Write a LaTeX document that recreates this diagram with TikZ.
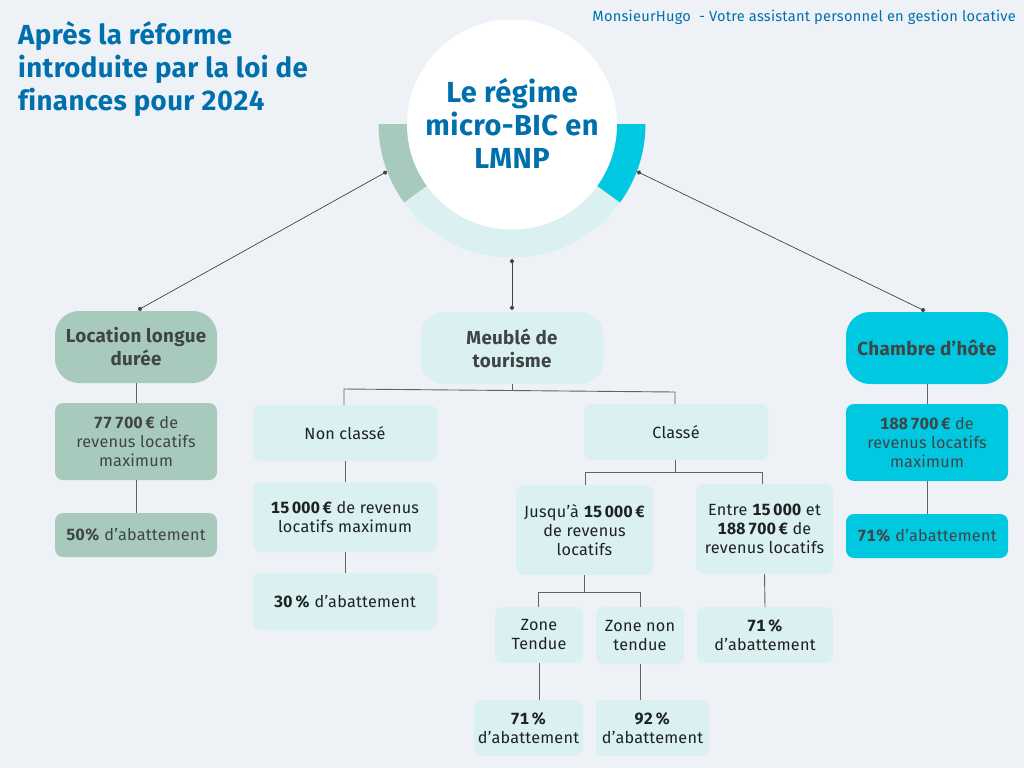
\documentclass[tikz,border=0pt]{standalone}
\usepackage{fontspec}
\setmainfont[LetterSpace=1.5,Numbers=Monospaced,Ligatures=NoCommon]{Fira Sans}
\usetikzlibrary{arrows.meta}
\definecolor{pagebg}{HTML}{EEF2F7}
\definecolor{sage}{HTML}{A8CABC}
\definecolor{pale}{HTML}{DBF0F0}
\definecolor{cyan}{HTML}{00C8E0}
\definecolor{bluetxt}{HTML}{0070AD}
\definecolor{darktxt}{HTML}{3F4547}
\definecolor{blacktxt}{HTML}{1D2222}
\definecolor{linkgrey}{HTML}{5A6666}
\newcommand{\thsp}{\hspace{0.17em}}
\tikzset
{
    box/.style = {rectangle, align=center, inner sep=0pt, outer sep=0pt, rounded corners=8pt, font=\fontsize{16.2}{19}\selectfont},
    palebox/.style = {box, fill=pale, text=blacktxt},
    sagebox/.style = {box, fill=sage, text=darktxt},
    cyanbox/.style = {box, fill=cyan, text=darktxt},
    headbox/.style = {rounded corners=24pt, text=darktxt, font=\fontsize{18.8}{23}\selectfont\bfseries},
    hub/.style = {circle, fill=white, inner sep=0pt, outer sep=0pt, minimum size=210pt, align=center, text=bluetxt, font=\fontsize{29}{33}\selectfont\bfseries},
    link/.style = {draw=linkgrey, line width=0.9pt},
    spoke/.style = {draw=darktxt, line width=0.7pt, {Circle[length=4.5pt]}-{Circle[length=4.5pt]}}
}
\begin{document}
\begin{tikzpicture}[x=1pt,y=1pt]
	\fill[pagebg] (0,0) rectangle (1024,-768);
	\useasboundingbox (0,0) rectangle (1024,-768);
	% ring round the hub
	\fill[pale] (378.5,-124) arc[start angle=180, end angle=360, radius=133.5] -- cycle;
	\fill[sage] (512,-124) -- (378.5,-124) arc[start angle=180, end angle=216, radius=133.5] -- cycle;
	\fill[cyan] (512,-124) -- (645.5,-124) arc[start angle=0, end angle=-36, radius=133.5] -- cycle;
	\node[hub] (hub) at (512,-124.5) {};
	\node[align=center, text=bluetxt, inner sep=0pt, font=\fontsize{29}{33}\selectfont\bfseries] (hubtext) at (512,-123) {Le régime\\micro-BIC en\\LMNP};
	% texts
	\node[anchor=north west, inner sep=0pt, align=left, text=bluetxt, font=\fontsize{27.6}{33}\selectfont\bfseries] (title) at (18,-21.5) {Après la réforme\\introduite par la loi de\\finances pour 2024};
	\node[anchor=east, inner sep=0pt, text=bluetxt, font=\fontsize{14.65}{16}\selectfont] (brand) at (1016,-17) {MonsieurHugo\ \ - Votre assistant personnel en gestion locative};
	% left column
	\node[sagebox, headbox, minimum width=162pt, minimum height=72pt] (longue) at (136,-347) {Location longue\\durée};
	\node[sagebox, minimum width=162pt, minimum height=77pt] (longuerev) at (136,-441.5) {\textbf{77\thsp700\thsp€} de\\revenus locatifs\\maximum};
	\node[sagebox, minimum width=162pt, minimum height=44pt] (longueab) at (136,-535) {\textbf{50\%} d’abattement};
	% right column
	\node[cyanbox, headbox, minimum width=162pt, minimum height=72pt] (chambre) at (927,-348) {Chambre d’hôte};
	\node[cyanbox, minimum width=162pt, minimum height=77pt] (chambrerev) at (927,-442.5) {\textbf{188\thsp700\thsp€} de\\revenus locatifs\\maximum};
	\node[cyanbox, minimum width=162pt, minimum height=44pt] (chambreab) at (927,-536) {\textbf{71\%} d’abattement};
	% middle column
	\node[palebox, headbox, minimum width=183pt, minimum height=72pt] (meuble) at (512,-348) {Meublé de\\tourisme};
	\node[palebox, minimum width=184pt, minimum height=56pt] (nonclasse) at (345,-433) {Non classé};
	\node[palebox, minimum width=184pt, minimum height=70pt] (nonrev) at (345,-517) {\textbf{15\thsp000\thsp€} de revenus\\locatifs maximum};
	\node[palebox, minimum width=184pt, minimum height=57pt] (nonab) at (345,-601.5) {\textbf{30\thsp\%} d’abattement};
	\node[palebox, minimum width=184pt, minimum height=56pt] (classe) at (676,-432) {Classé};
	\node[palebox, minimum width=137pt, minimum height=90pt] (jusqua) at (584.5,-530) {Jusqu’à \textbf{15\thsp000\thsp€}\\de revenus\\locatifs};
	\node[palebox, minimum width=137pt, minimum height=90pt] (entre) at (764.5,-529) {Entre \textbf{15\thsp000} et\\\textbf{188\thsp700\thsp€} de\\revenus locatifs};
	\node[palebox, minimum width=88pt, minimum height=56pt] (tendue) at (539,-635) {Zone\\Tendue};
	\node[palebox, minimum width=88pt, minimum height=57pt] (nontendue) at (640,-635.5) {Zone non\\tendue};
	\node[palebox, minimum width=136pt, minimum height=56pt] (entreab) at (765,-635) {\textbf{71\thsp\%}\\d’abattement};
	\node[palebox, minimum width=109pt, minimum height=56pt] (tendueab) at (528.5,-728) {\textbf{71\thsp\%}\\d’abattement};
	\node[palebox, minimum width=113pt, minimum height=56pt] (nontendueab) at (652.5,-728) {\textbf{92\thsp\%}\\d’abattement};
	% free ends of the spokes
	\coordinate (spokeL) at (387,-171.5);
	\coordinate (spokeM) at (512,-259);
	\coordinate (spokeR) at (637,-171.5);
	\coordinate (longuetop) at (138,-310);
	\coordinate (meubletop) at (512,-310);
	\coordinate (chambretop) at (925,-311);
	\draw[spoke] (spokeL) -- (longuetop);
	\draw[spoke] (spokeM) -- (meubletop);
	\draw[spoke] (spokeR) -- (chambretop);
	% bus points
	\coordinate (busA) at (344,-389);
	\coordinate (busB) at (675,-392);
	\coordinate (busM) at (512,-391);
	\coordinate (busC) at (585,-472);
	\coordinate (busD) at (762,-472);
	\coordinate (busE) at (538,-592);
	\coordinate (busF) at (640,-592);
	\coordinate (busK) at (675.5,-472);
	\coordinate (busJ) at (584,-592);
	\draw[link] (longue.south) -- (longuerev.north);
	\draw[link] (longuerev.south) -- (longueab.north);
	\draw[link] (chambre.south) -- (chambrerev.north);
	\draw[link] (chambrerev.south) -- (chambreab.north);
	\draw[link] (meuble.south) -- (busM);
	\draw[link] (nonclasse.north -| busA) -- (busA) -- (busB) -- (classe.north -| busB);
	\draw[link] (nonclasse.south) -- (nonrev.north);
	\draw[link] (nonrev.south) -- (nonab.north);
	\draw[link] (classe.south -| busK) -- (busK);
	\draw[link] (jusqua.north -| busC) -- (busC) -- (busD) -- (entre.north -| busD);
	\draw[link] (jusqua.south -| busJ) -- (busJ);
	\draw[link] (tendue.north -| busE) -- (busE) -- (busF) -- (nontendue.north -| busF);
	\draw[link] (entre.south) -- (entreab.north);
	\draw[link] (tendue.south) -- (tendue.south |- tendueab.north);
	\draw[link] (nontendue.south) -- (nontendue.south |- nontendueab.north);
\end{tikzpicture}
\end{document}
